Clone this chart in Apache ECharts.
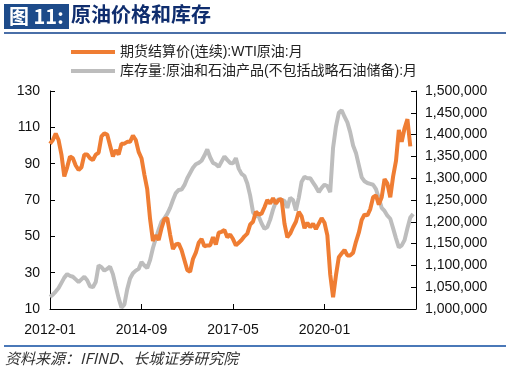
<!DOCTYPE html>
<html><head><meta charset="utf-8">
<script src="https://cdn.jsdelivr.net/npm/echarts@6/dist/echarts.min.js"></script>
<style>html,body{margin:0;padding:0;background:#fff}#c{width:509px;height:373px}</style>
</head><body><div id="c"></div>
<script>
// categories: monthly 2012-01 .. 2022-09
var categories = [];
for (var y = 2012; y <= 2022; y++) { for (var m = 1; m <= 12; m++) { if (y === 2022 && m > 9) break; categories.push(y + '-' + (m < 10 ? '0' + m : m)); } }
var xTickLabels = ['2012-01', '2014-09', '2017-05', '2020-01'];
var leftTicks = [10, 30, 50, 70, 90, 110, 130];
var rightTicks = [1000000, 1050000, 1100000, 1150000, 1200000, 1250000, 1300000, 1350000, 1400000, 1450000, 1500000];

var seriesNames = ['期货结算价(连续):WTI原油:月', '库存量:原油和石油产品(不包括战略石油储备):月'];

var wti = [
  101, 103, 106.5, 103, 95, 83, 88, 94, 93, 89, 86.5, 88,
  95, 95, 93, 92, 95, 96, 105, 106.7, 106, 100, 94, 97.5,
  95, 101, 101, 102, 102, 105.5, 103, 96.5, 93, 84, 76, 59.5,
  47.5, 50.5, 48, 54.5, 59.5, 60, 51, 43, 45.5, 46, 42.5, 37,
  31.5, 30.5, 37.5, 41, 46.5, 48.5, 44.5, 45, 45, 49.5, 45.5, 52,
  52.5, 53.5, 49.5, 51, 48.5, 45, 46.5, 48, 50, 51.5, 56.5, 58,
  63.5, 62, 62.5, 66, 70, 68, 71, 68, 70, 70.5, 57, 49.5,
  51.5, 55, 58, 63.5, 61, 54.5, 57.5, 55, 57, 54, 57, 60,
  57.5, 50.5, 29, 16.5, 28.5, 38.5, 40.5, 42.5, 39.5, 39.5, 41, 47,
  52, 59, 62, 61.5, 65, 71.5, 72.5, 67.5, 71.5, 81.5, 79, 71.5,
  83, 91.5, 108.5, 102, 109.5, 114.5, 99.5
];

var stocks = [
  1028000, 1033000, 1040000, 1048000, 1060000, 1072000, 1080000, 1076000, 1074000, 1068000, 1062000, 1068000,
  1074000, 1066000, 1052000, 1050000, 1062000, 1100000, 1096000, 1088000, 1092000, 1097000, 1080000, 1052000,
  1025000, 1003000, 1010000, 1045000, 1070000, 1082000, 1088000, 1092000, 1108000, 1100000, 1094000, 1112000,
  1140000, 1162000, 1182000, 1200000, 1208000, 1218000, 1232000, 1250000, 1266000, 1273000, 1274000, 1284000,
  1300000, 1312000, 1324000, 1332000, 1335000, 1340000, 1352000, 1366000, 1348000, 1335000, 1332000, 1326000,
  1338000, 1350000, 1342000, 1335000, 1334000, 1346000, 1322000, 1310000, 1305000, 1288000, 1260000, 1222000,
  1213000, 1212000, 1196000, 1184000, 1188000, 1205000, 1228000, 1246000, 1252000, 1250000, 1248000, 1232000,
  1255000, 1250000, 1226000, 1255000, 1292000, 1303000, 1300000, 1300000, 1290000, 1280000, 1268000, 1278000,
  1285000, 1282000, 1268000, 1370000, 1418000, 1450000, 1456000, 1441000, 1428000, 1405000, 1375000, 1358000,
  1330000, 1302000, 1293000, 1289000, 1287000, 1285000, 1275000, 1254000, 1232000, 1225000, 1214000, 1207000,
  1185000, 1162000, 1141000, 1146000, 1158000, 1185000, 1210000, 1218000
];

var chart = echarts.init(document.getElementById('c'));
var fmt = function (v) { return String(v).replace(/\B(?=(\d{3})+(?!\d))/g, ','); };
chart.setOption({
  animation: false,
  textStyle: { fontFamily: 'Liberation Sans, Arial, sans-serif' },
  graphic: [
    { type: 'rect', shape: { x: 4, y: 4, width: 65, height: 25 }, style: { fill: '#1d4b8a' } },
    { type: 'text', left: 9, top: 6, style: { text: '图 11:', fill: '#fff', font: 'bold 20px "Noto Sans CJK SC", serif' } },
    { type: 'text', left: 71, top: 4, style: { text: '原油价格和库存', fill: '#0f2d6e', font: 'bold 20px "Noto Sans CJK SC", sans-serif' } },
    { type: 'rect', shape: { x: 4, y: 32, width: 502, height: 2 }, style: { fill: '#4a6fa8' } },
    { type: 'rect', shape: { x: 4, y: 345, width: 502, height: 2 }, style: { fill: '#4a78b8' } },
    { type: 'text', left: 5, top: 351, style: { text: '资料来源：IFIND、长城证券研究院', fill: '#333', font: 'italic 15px "Noto Sans CJK SC", sans-serif' } }
  ],
  legend: {
    orient: 'vertical', left: 66, top: 40, itemGap: 5, itemWidth: 44, itemHeight: 4, icon: 'rect',
    textStyle: { fontSize: 14, color: '#222', fontFamily: 'Liberation Sans, "Noto Sans CJK SC", sans-serif' },
    data: seriesNames
  },
  grid: { left: 50, right: 93, top: 91, bottom: 64 },
  xAxis: {
    type: 'category', data: categories, boundaryGap: false,
    axisLine: { lineStyle: { color: '#000', width: 1 } },
    axisTick: { inside: true, length: 5, interval: 31, lineStyle: { color: '#000' } },
    axisLabel: {
      interval: 31, color: '#111', fontSize: 14, margin: 14, hideOverlap: false,
      showMinLabel: true, showMaxLabel: false,
      formatter: function (v) { return xTickLabels.indexOf(v) >= 0 ? v : ''; }
    }
  },
  yAxis: [
    { type: 'value', min: 10, max: 130, interval: 20, splitLine: { show: false },
      axisLine: { show: true, lineStyle: { color: '#000' } },
      axisTick: { show: true, inside: true, length: 5, lineStyle: { color: '#000' } },
      axisLabel: { color: '#111', fontSize: 14, margin: 10 } },
    { type: 'value', min: 1000000, max: 1500000, interval: 50000, splitLine: { show: false },
      axisLine: { show: true, lineStyle: { color: '#000' } },
      axisTick: { show: true, inside: true, length: 5, lineStyle: { color: '#000' } },
      axisLabel: { color: '#111', fontSize: 14, margin: 9, formatter: fmt } }
  ],
  series: [
    { name: seriesNames[0], type: 'line', yAxisIndex: 0, data: wti, showSymbol: false, symbol: 'none',
      lineStyle: { color: '#ef7d33', width: 4 }, itemStyle: { color: '#ef7d33' }, z: 3 },
    { name: seriesNames[1], type: 'line', yAxisIndex: 1, data: stocks, showSymbol: false, symbol: 'none',
      lineStyle: { color: '#bdbdbd', width: 4 }, itemStyle: { color: '#bdbdbd' }, z: 2 }
  ]
});
</script></body></html>
